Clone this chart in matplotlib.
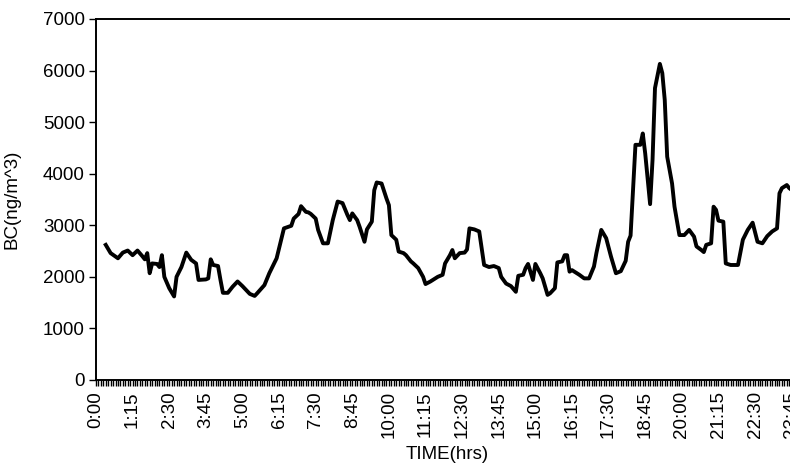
import matplotlib
matplotlib.use("Agg")
import matplotlib.pyplot as plt
from matplotlib.ticker import MultipleLocator, FuncFormatter

plt.rcParams['font.family'] = ['Liberation Sans', 'DejaVu Sans']

# Black carbon readings over one day (minutes after midnight, ng/m^3)
minutes = [20, 30, 45, 55, 65, 75, 85, 95, 100, 105, 110, 115, 125, 130, 135, 140,
           150, 160, 165, 175, 185, 195, 205, 210, 225, 230, 235, 240, 250, 255, 260,
           270, 280, 290, 300, 315, 325, 330, 345, 355, 370, 385, 400, 405, 415, 420,
           430, 435, 440, 450, 455, 465, 475, 485, 495, 505, 515, 520, 525, 535, 540,
           550, 555, 565, 570, 575, 585, 595, 600, 605, 615, 620, 630, 635, 645, 650,
           660, 670, 675, 685, 700, 710, 715, 725, 730, 735, 745, 755, 760, 765, 775,
           785, 795, 805, 815, 825, 830, 840, 850, 860, 865, 875, 880, 885, 895, 900,
           910, 915, 925, 930, 940, 945, 955, 960, 965, 970, 975, 990, 1000, 1010,
           1020, 1025, 1035, 1045, 1055, 1065, 1075, 1085, 1090, 1095, 1105, 1115,
           1120, 1125, 1135, 1140, 1145, 1155, 1160, 1165, 1170, 1180, 1185, 1195,
           1205, 1215, 1225, 1230, 1240, 1245, 1250, 1260, 1265, 1270, 1275, 1285,
           1290, 1300, 1315, 1325, 1335, 1345, 1355, 1365, 1375, 1385, 1395, 1400,
           1405, 1415, 1420, 1430]
bc = [2620, 2460, 2360, 2470, 2510, 2420, 2510, 2400, 2340, 2460, 2070, 2260, 2250,
      2190, 2420, 2000, 1780, 1620, 2000, 2190, 2470, 2330, 2260, 1940, 1950, 1970,
      2340, 2230, 2210, 1940, 1690, 1690, 1810, 1910, 1820, 1670, 1630, 1680, 1840,
      2070, 2360, 2940, 2990, 3130, 3220, 3370, 3260, 3250, 3220, 3130, 2910, 2650,
      2650, 3100, 3460, 3430, 3200, 3100, 3230, 3100, 2970, 2680, 2920, 3070, 3680,
      3830, 3810, 3520, 3390, 2810, 2720, 2490, 2460, 2420, 2300, 2260, 2170, 2000,
      1860, 1910, 2000, 2040, 2260, 2420, 2520, 2360, 2460, 2470, 2530, 2940, 2920,
      2880, 2230, 2190, 2210, 2170, 2000, 1870, 1820, 1710, 2020, 2040, 2170, 2250,
      1940, 2250, 2070, 1970, 1650, 1680, 1780, 2280, 2300, 2420, 2420, 2100, 2130,
      2040, 1970, 1970, 2200, 2460, 2910, 2750, 2390, 2070, 2110, 2310, 2680, 2800,
      4560, 4560, 4780, 4390, 3410, 4270, 5660, 6130, 5950, 5430, 4330, 3810, 3360,
      2810, 2810, 2910, 2780, 2590, 2520, 2480, 2620, 2650, 3360, 3300, 3090, 3070,
      2260, 2230, 2230, 2720, 2910, 3050, 2680, 2650, 2790, 2880, 2940, 3620, 3720,
      3780, 3720, 3650]

fig = plt.figure(figsize=(7.9, 4.69), dpi=100)
# axes run a little past the right edge of the figure
ax = fig.add_axes([0.1215, 0.1898, 0.8899, 0.7697])

ax.plot(minutes, bc, color='black', linewidth=2.8, solid_joinstyle='round')

ax.set_xlim(0, 1440)
ax.set_ylim(0, 7000)
ax.yaxis.set_major_locator(MultipleLocator(1000))
ax.xaxis.set_major_locator(MultipleLocator(75))
ax.xaxis.set_minor_locator(MultipleLocator(5))
ax.xaxis.set_major_formatter(FuncFormatter(lambda v, p: f"{int(v) // 60}:{int(v) % 60:02d}"))

ax.tick_params(axis='x', which='both', direction='out', length=4, width=1.0,
               labelsize=13.5, labelrotation=90, pad=4)
ax.tick_params(axis='y', direction='out', length=5, width=1.0, labelsize=13.5, pad=3)

for side in ['left', 'top', 'bottom']:
    ax.spines[side].set_linewidth(1.4)
ax.spines['right'].set_visible(False)

ax.set_ylabel('BC(ng/m^3)', fontsize=13.5)
ax.yaxis.set_label_coords(-0.107, 0.5)
ax.set_xlabel('TIME(hrs)', fontsize=13.5)
ax.xaxis.set_label_coords(0.5, -0.183)

fig.savefig('out.png', dpi=100)
